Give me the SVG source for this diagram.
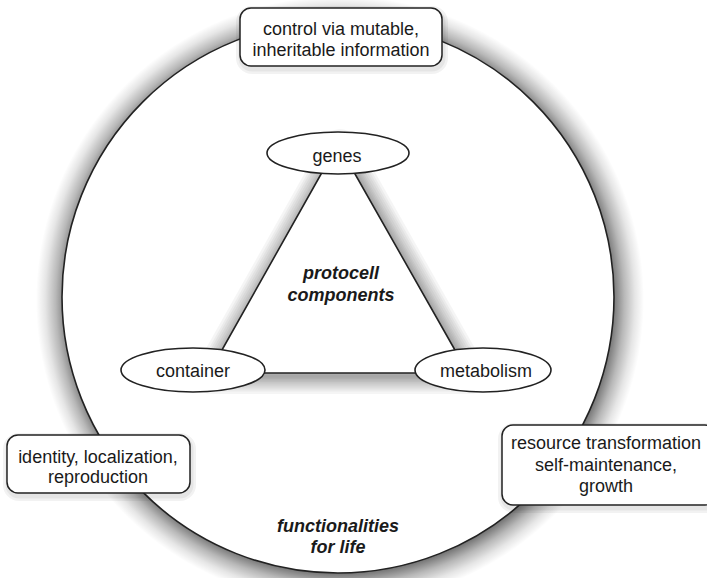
<svg xmlns="http://www.w3.org/2000/svg" width="707" height="578" viewBox="0 0 707 578">
<defs>
<radialGradient id="cg" gradientUnits="userSpaceOnUse" cx="340" cy="300" r="304">
<stop offset="0.89" stop-color="#000" stop-opacity="0.6"/>
<stop offset="0.935" stop-color="#000" stop-opacity="0.28"/>
<stop offset="0.97" stop-color="#000" stop-opacity="0.1"/>
<stop offset="1" stop-color="#000" stop-opacity="0"/>
</radialGradient>
</defs>
<style>
.ln{fill:#fff;stroke:#222;stroke-width:1.6}
.bx{fill:#fff;stroke:#222;stroke-width:1.5}
.gl{fill:none;stroke:#000;stroke-opacity:0.04;stroke-linejoin:round}
.gb{fill:none;stroke:#000;stroke-opacity:0.05;stroke-linejoin:round}
.t{font-family:"Liberation Sans",Arial,sans-serif;font-size:18px;fill:#1a1a1a;text-anchor:middle}
.bi{font-weight:bold;font-style:italic}
</style>
<rect width="707" height="578" fill="#fff"/>
<g id="connectors">
<circle cx="340" cy="300" r="304" fill="url(#cg)"/>
<circle class="ln" cx="338" cy="297" r="276"/>
<g transform="translate(2,3)">
<polygon class="gl" points="338,144 209,373 468,373" stroke-width="36"/>
<polygon class="gl" points="338,144 209,373 468,373" stroke-width="31"/>
<polygon class="gl" points="338,144 209,373 468,373" stroke-width="27"/>
<polygon class="gl" points="338,144 209,373 468,373" stroke-width="23"/>
<polygon class="gl" points="338,144 209,373 468,373" stroke-width="19"/>
<polygon class="gl" points="338,144 209,373 468,373" stroke-width="15"/>
<polygon class="gl" points="338,144 209,373 468,373" stroke-width="12"/>
<polygon class="gl" points="338,144 209,373 468,373" stroke-width="9"/>
<polygon class="gl" points="338,144 209,373 468,373" stroke-width="6"/>
<polygon class="gl" points="338,144 209,373 468,373" stroke-width="3"/>
</g>
<polygon class="ln" points="338,144 209,373 468,373" stroke-linejoin="round"/>
</g>
<g id="label-protocell">
<text class="t bi" x="341" y="279">protocell</text>
<text class="t bi" x="341" y="301">components</text>
</g>
<g id="label-functionalities">
<text class="t bi" x="338" y="532">functionalities</text>
<text class="t bi" x="338" y="553">for life</text>
</g>
<g id="genes">
<ellipse class="ln" cx="338" cy="153" rx="71" ry="21"/>
<text class="t" x="337" y="162">genes</text>
</g>
<g id="container">
<ellipse class="ln" cx="193" cy="370" rx="72" ry="22"/>
<text class="t" x="193" y="377">container</text>
</g>
<g id="metabolism">
<ellipse class="ln" cx="483" cy="370" rx="68" ry="22"/>
<text class="t" x="486" y="377">metabolism</text>
</g>
<g id="control">
<rect class="gb" x="241" y="11" width="202" height="58" rx="11" stroke-width="10"/>
<rect class="gb" x="241" y="11" width="202" height="58" rx="11" stroke-width="5"/>
<rect class="bx" x="240" y="8" width="202" height="58" rx="11"/>
<text class="t" x="341" y="35">control via mutable,</text>
<text class="t" x="341" y="56">inheritable information</text>
</g>
<g id="identity">
<rect class="gb" x="8" y="438" width="183" height="58" rx="11" stroke-width="10"/>
<rect class="gb" x="8" y="438" width="183" height="58" rx="11" stroke-width="5"/>
<rect class="bx" x="7" y="435" width="183" height="58" rx="11"/>
<text class="t" x="98" y="463">identity, localization,</text>
<text class="t" x="98" y="483">reproduction</text>
</g>
<g id="resource">
<rect class="gb" x="503" y="428" width="214" height="80" rx="11" stroke-width="10"/>
<rect class="gb" x="503" y="428" width="214" height="80" rx="11" stroke-width="5"/>
<rect class="bx" x="502" y="425" width="214" height="80" rx="11"/>
<text class="t" x="606" y="449">resource transformation</text>
<text class="t" x="606" y="471">self-maintenance,</text>
<text class="t" x="606" y="492">growth</text>
</g>
</svg>
